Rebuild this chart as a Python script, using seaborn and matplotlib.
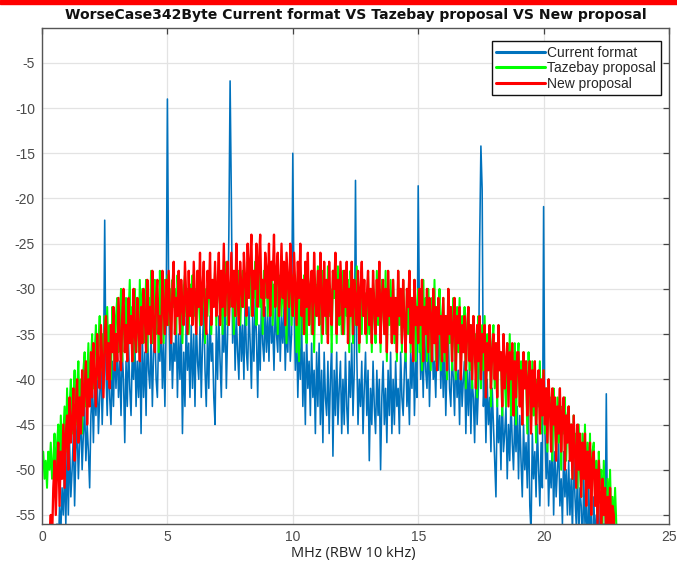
import numpy as np
import pandas as pd
import matplotlib
matplotlib.use("Agg")
import matplotlib.pyplot as plt
from matplotlib.patches import Rectangle
from matplotlib.lines import Line2D
import seaborn as sns

# ---------------- data (dB, one sample every 0.05 MHz, starting at 0 MHz) ----------------
series_names = ["Current format", "Tazebay proposal", "New proposal"]
series_colors = ["#0072BD", "#00FF00", "#FF0000"]
freq_step_mhz = 0.05

current_format = [
    -70, -68, -71, -66, -69, -65, -67, -63, -66, -61, -58, -62, -56, -59, -54, -57, -52, -55, -50, -56,
    -48, -55, -47, -53, -50, -46, -54, -48, -45, -51, -47, -44, -50, -46, -43, -49, -45, -48, -52, -44,
    -41, -47, -40, -44, -39, -46, -42, -38, -45, -40, -22.4, -39, -44, -37, -42, -45, -38, -43, -36, -41,
    -36, -42, -38, -44, -37, -40, -47, -38, -43, -36, -41, -44, -37, -40, -35, -43, -38, -42, -36, -46,
    -35, -42, -37, -44, -34, -39, -41, -35, -43, -37, -34, -40, -42, -35, -38, -33, -41, -36, -43, -34,
    -9.0, -30, -39, -34, -41, -36, -38, -33, -42, -35, -40, -34, -46, -37, -43, -33, -39, -36, -42, -34,
    -41, -35, -43, -33, -38, -40, -34, -42, -36, -32, -39, -43, -35, -41, -33, -38, -36, -42, -45, -34,
    -40, -33, -38, -42, -34, -37, -32, -41, -35, -24, -7.0, -20, -36, -31, -39, -33, -37, -40, -32, -38,
    -34, -40, -31, -37, -39, -32, -36, -41, -33, -38, -31, -35, -42, -34, -39, -31, -36, -38, -32, -37,
    -33, -38, -31, -36, -34, -39, -32, -35, -37, -31, -38, -33, -36, -32, -39, -34, -37, -31, -38, -35,
    -15.0, -31, -39, -34, -42, -36, -40, -33, -43, -37, -45, -35, -41, -38, -44, -36, -42, -39, -46, -37,
    -43, -36, -45, -39, -47, -37, -42, -44, -38, -46, -40, -36, -48.5, -39, -44, -37, -45, -41, -38, -46,
    -40, -45, -37, -43, -46, -38, -42, -36, -44, -39, -18.0, -37, -45, -40, -43, -38, -46, -41, -37, -44,
    -39, -49, -41, -45, -38, -43, -46, -39, -44, -40, -50, -42, -38, -45, -41, -47, -39, -44, -37, -46,
    -40, -45, -38, -43, -41, -46, -37, -42, -44, -39, -36, -43, -40, -45, -37, -41, -35, -44, -38, -42,
    -18.6, -33, -40, -36, -42, -34, -39, -41, -35, -43, -37, -34, -40, -38, -42, -35, -39, -33, -41, -36,
    -42, -36, -44, -38, -35, -41, -43, -37, -40, -44, -36, -42, -39, -45, -37, -43, -40, -38, -46, -39,
    -44, -38, -46, -40, -42, -47, -39, -45, -41, -25, -14.2, -19, -43, -39, -47, -40, -45, -42, -48, -41,
    -45, -49, -53, -42, -47, -44, -50, -41, -48, -46, -43, -51, -45, -49, -42, -47, -50, -44, -48, -43,
    -51, -44, -49, -53, -45, -50, -47, -52, -44, -54, -57, -46, -51, -48, -53, -45, -50, -54, -47, -52,
    -20.9, -45, -51, -47, -54, -49, -52, -46, -55, -48, -53, -50, -47, -54, -51, -56, -48, -53, -50, -55,
    -49, -55, -51, -57, -48, -53, -56, -50, -58, -52, -54, -59, -51, -56, -53, -60, -52, -57, -55, -61,
    -53, -58, -55, -62, -54, -60, -57, -63, -56, -59, -41.6, -58, -62, -64, -66, -68, -67, -70, -69, -72,
]

tazebay_proposal = [
    -50, -48, -51, -49, -52, -48, -50, -47, -51, -49, -46, -52, -47, -45, -50, -44, -49, -46, -43, -48,
    -41, -47, -43, -40, -46, -42, -39, -45, -41, -38, -44, -40, -46, -39, -37, -43, -40, -36, -42, -38,
    -35, -41, -37, -34, -40, -36, -33, -39, -35, -41, -33, -37, -32, -38, -34, -40, -32, -36, -38, -33,
    -31, -37, -34, -30, -38, -32, -35, -31, -37, -33, -29, -36, -32, -38, -30, -34, -31, -37, -29, -35,
    -30, -36, -33, -29, -37, -31, -34, -28, -36, -32, -29, -35, -31, -37, -28, -33, -30, -36, -29, -34,
    -28.5, -34, -30, -36, -29, -32, -30, -35, -28.5, -31, -34, -29.5, -36, -30, -28.5, -33, -30, -35, -29.5, -31,
    -28.5, -33, -30, -35, -28, -31, -34, -29.5, -32, -28, -36, -30, -33, -28.5, -31, -35, -29.5, -31, -28, -34,
    -30, -28, -33, -29.5, -35, -28.5, -31, -27, -34, -30, -32, -28, -31, -35, -28.5, -33, -29.5, -28, -34, -31,
    -28, -32, -29.5, -34, -27, -31, -28.5, -33, -28, -31, -27, -34, -30, -28, -32, -29.5, -35, -28, -31, -28.5,
    -33, -28.5, -31, -27, -34, -29.5, -31, -28, -35, -30, -28.5, -33, -28, -32, -29.5, -36, -28.5, -31, -28, -34,
    -28.5, -33, -30, -37, -28, -38, -31, -29.5, -35, -28.5, -32, -36, -28, -31, -30, -35, -28.5, -37, -29.5, -33,
    -27.5, -34, -29, -36, -28, -32, -30.5, -35, -27.5, -33, -30, -37, -28, -31, -29, -36, -27.5, -34, -30.5, -35,
    -28, -35, -30, -33, -29, -37, -28, -31, -36, -29, -34, -27.5, -32, -37, -30, -35, -29, -33, -30.5, -36,
    -28, -35, -30, -37, -29, -33, -36, -28, -34, -30, -37, -29, -32, -35, -28, -38, -30, -34, -29, -36,
    -29, -36, -31, -38, -28, -34, -30, -37, -29, -33, -38, -30, -35, -28, -37, -31, -34, -29, -38, -32,
    -30, -37, -32, -39, -29, -35, -31, -38, -30, -34, -39, -31, -36, -29, -38, -32, -35, -30, -39, -33,
    -31, -38, -33, -40, -30, -36, -32, -39, -31, -35, -40, -32, -37, -31, -39, -33, -36, -32, -41, -34,
    -32, -39, -34, -41, -33, -37, -35, -42, -33, -38, -41, -34, -39, -33, -42, -35, -38, -34, -43, -36,
    -34, -41, -36, -43, -35, -39, -37, -44, -35, -40, -43, -36, -41, -35, -44, -37, -40, -36, -45, -38,
    -36, -43, -38, -45, -37, -41, -39, -46, -37, -42, -45, -38, -44, -39, -47, -40, -43, -38, -46, -41,
    -39, -46, -41, -48, -40, -44, -42, -49, -41, -45, -48, -42, -47, -41, -50, -43, -46, -42, -49, -44,
    -43, -49, -45, -51, -44, -48, -46, -52, -45, -50, -53, -46, -51, -45, -54, -47, -52, -46, -55, -48,
    -47, -53, -49, -55, -48, -52, -50, -56, -49, -54, -57, -51, -55, -50, -56, -53, -57, -52, -56, -60,
]

new_proposal = [
    -70, -66, -68, -63, -64, -60, -57, -55, -58, -52, -49, -55, -50, -47, -54, -48, -51, -45, -52, -46,
    -44, -50, -42, -47, -45, -41, -49, -43, -40, -47, -42, -46, -39, -44, -41, -38, -45, -40, -43, -37,
    -42, -36, -40, -43, -35, -39, -41, -34, -38, -42, -35, -33, -40, -36, -41, -34, -37, -32, -39, -35,
    -38, -31, -35, -39, -33, -30, -37, -34, -38, -31, -36, -33, -38, -30, -35, -37, -31, -34, -38, -32,
    -36, -30, -33, -37, -29, -35, -32, -36, -28, -34, -37, -31, -29, -35, -33, -36, -28, -32, -35, -29,
    -34, -28, -32, -36, -30, -27, -35, -31, -33, -28, -35, -29, -32, -34, -27, -31, -35, -28, -33, -30,
    -34, -27, -31, -35, -28, -32, -26, -34, -30, -27, -33, -35, -28, -31, -26, -34, -29, -32, -27, -33,
    -30, -26, -34, -28, -32, -25, -33, -29, -27, -34, -30, -26, -32, -28, -33, -25, -31, -34, -27, -30,
    -32, -26, -29, -33, -25, -31, -27, -24, -33, -28, -30, -25, -32, -27, -24, -31, -29, -33, -26, -28,
    -31, -25, -33, -27, -29, -24, -32, -28, -26, -33, -30, -25, -31, -27, -34, -26, -29, -32, -25, -30,
    -33, -26, -30, -34, -27, -31, -25, -33, -29, -35, -27, -32, -26, -34, -30, -28, -35, -26, -31, -33,
    -28, -34, -26, -31, -35, -27, -33, -29, -36, -27, -32, -34, -28, -30, -26, -35, -29, -33, -27, -31,
    -35, -28, -32, -27, -36, -30, -33, -27, -35, -29, -31, -34, -28, -36, -30, -27, -33, -29, -35, -31,
    -28, -34, -30, -36, -28, -32, -35, -29, -33, -27, -36, -31, -29, -35, -30, -37, -28, -33, -31, -36,
    -29, -35, -31, -37, -28, -33, -30, -36, -29, -34, -37, -30, -32, -28, -36, -31, -38, -29, -34, -32,
    -36, -30, -34, -29, -38, -32, -35, -30, -37, -31, -33, -38, -30, -36, -32, -39, -31, -35, -33, -38,
    -31, -37, -33, -39, -30, -35, -32, -38, -34, -31, -39, -33, -36, -32, -40, -34, -37, -33, -39, -35,
    -32, -38, -34, -40, -33, -36, -41, -34, -38, -33, -40, -35, -37, -34, -42, -36, -39, -34, -41, -37,
    -35, -40, -36, -42, -34, -39, -37, -43, -35, -41, -38, -36, -43, -37, -40, -36, -44, -38, -42, -37,
    -37, -43, -39, -45, -37, -41, -38, -44, -40, -38, -46, -39, -43, -38, -45, -41, -39, -46, -40, -44,
    -39, -45, -41, -47, -40, -43, -48, -41, -45, -42, -49, -43, -46, -41, -48, -44, -42, -50, -44, -47,
    -43, -49, -45, -51, -44, -48, -52, -45, -50, -46, -53, -47, -51, -46, -54, -48, -52, -47, -55, -49,
    -48, -54, -50, -56, -49, -53, -57, -51, -55, -52, -58, -53, -56, -52, -57, -54, -55, -63, -68, -70,
]

x_ticks = [0, 5, 10, 15, 20, 25]
y_ticks = [-55, -50, -45, -40, -35, -30, -25, -20, -15, -10, -5]
title_text = "WorseCase342Byte Current format VS Tazebay proposal VS New proposal"
xlabel_text = "MHz (RBW 10 kHz)"

# ---------------- long-form table ----------------
frames = []
for name, vals in zip(series_names, [current_format, tazebay_proposal, new_proposal]):
    f = np.round(np.arange(len(vals)) * freq_step_mhz, 2)
    frames.append(pd.DataFrame({"MHz": f, "dB": vals, "series": name}))
df = pd.concat(frames, ignore_index=True)

# ---------------- figure ----------------
sns.set_theme(style="white")
plt.rcParams["font.family"] = ["Liberation Sans", "DejaVu Sans"]

fig = plt.figure(figsize=(6.77, 5.63), dpi=100)
ax = fig.add_axes([42 / 677, 1 - 524 / 563, 627 / 677, 496 / 563])

line_widths = {"Current format": 1.15, "Tazebay proposal": 1.45, "New proposal": 1.65}
for name, color in zip(series_names, series_colors):
    sns.lineplot(data=df[df["series"] == name], x="MHz", y="dB", color=color,
                 estimator=None, sort=False, linewidth=line_widths[name],
                 legend=False, ax=ax)

ax.set_xlim(0, 25)
ax.set_ylim(-56.0, -1.15)
ax.set_xticks(x_ticks)
ax.set_yticks(y_ticks)
ax.set_xticklabels([str(t) for t in x_ticks])
ax.set_yticklabels([str(t) for t in y_ticks])
ax.grid(True, color="#e3e3e3", linewidth=0.9)
ax.set_axisbelow(True)
for s in ax.spines.values():
    s.set_color("#555555")
    s.set_linewidth(1.0)
ax.tick_params(direction="in", length=4, width=0.9, color="#444444",
               top=True, right=True, labelsize=10, labelcolor="#4a4a4a")
ax.tick_params(axis="x", pad=4)
ax.tick_params(axis="y", pad=5)
ax.set_xlabel("")
ax.set_ylabel("")

fig.text(353 / 677, 1 - 553 / 563, xlabel_text, ha="center", va="center",
         fontsize=10.5, color="#222222", family=["Open Sans", "DejaVu Sans"])
fig.text(355.5 / 677, 1 - 15 / 563, title_text, ha="center", va="center",
         fontsize=10.1, fontweight="bold", color="#111111",
         family=["DejaVu Sans"])

handles = [Line2D([0], [0], color=c, lw=2.2) for c in series_colors]
leg = ax.legend(handles, series_names, loc="upper right",
                bbox_to_anchor=(0.987, 0.974), fontsize=10, frameon=True,
                fancybox=False, edgecolor="#111111", framealpha=1,
                handlelength=3.5, handletextpad=0.15, labelspacing=0.1,
                borderpad=0.35, borderaxespad=0)
leg.get_frame().set_linewidth(1.0)

fig.patches.append(Rectangle((0, 1 - 4 / 563), 1, 4 / 563, transform=fig.transFigure,
                             color="#FF0000", zorder=10))

fig.savefig("out.png", dpi=100)
